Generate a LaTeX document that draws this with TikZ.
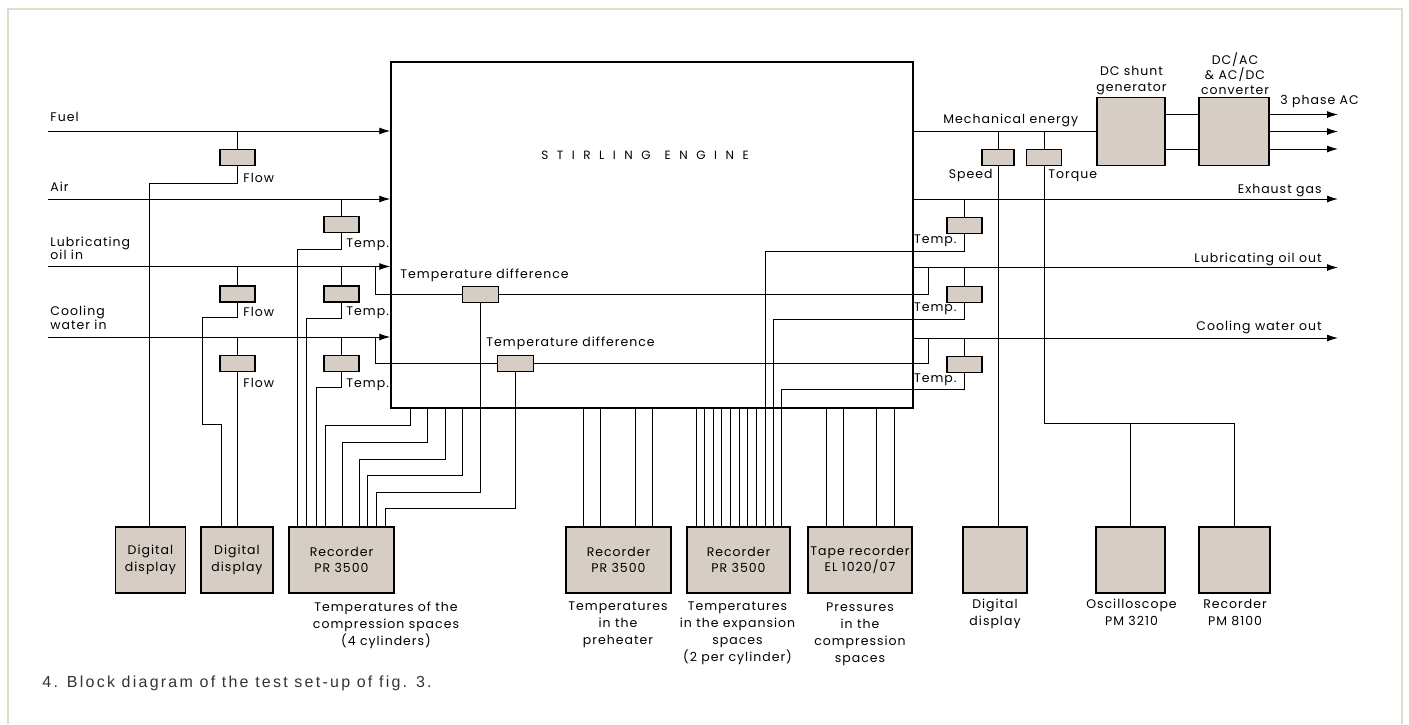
\documentclass[tikz,border=0pt]{standalone}
\usepackage{fontspec}
\setmainfont{Poppins}[LetterSpace=8]
\newfontfamily\engfont{Poppins}[LetterSpace=71]
\newfontfamily\capfont{Liberation Sans}[LetterSpace=14]
\usetikzlibrary{arrows.meta,positioning}
\definecolor{boxc}{RGB}{214,206,196}
\definecolor{framec}{RGB}{228,218,204}

\begin{document}
\begin{tikzpicture}[x=1pt,y=-1pt,line width=0.9pt,
  lbl/.style={inner sep=0pt,font=\fontsize{12.5}{13.5}\selectfont},
  note/.style={inner sep=0pt,align=center,font=\fontsize{12.5}{17}\selectfont},
  sens/.style={draw,line width=1.8pt,fill=boxc,minimum width=35pt,minimum height=16pt,inner sep=0pt},
  unit/.style={draw,line width=1.8pt,fill=boxc,align=center,inner sep=0pt,minimum height=66pt,font=\fontsize{12.5}{16.5}\selectfont},
  arr/.style={-{Latex[length=11pt,width=7pt]}}]
\useasboundingbox (0,0) rectangle (1409,724);
\draw[framec,line width=2pt] (8,724) -- (8,9) -- (1402,9) -- (1402,724);
% --- engine and the lines in and out ---
\node[draw,line width=1.5pt,minimum width=522pt,minimum height=346pt,inner sep=0pt] (engine) at (652,235) {};
\node[font=\engfont\fontsize{12}{14}\selectfont] (title) at (645,155) {STIRLING\hspace{14pt}ENGINE};
\coordinate (fuel) at (48,131);
\coordinate (air) at (48,199);
\coordinate (lubin) at (48,266.5);
\coordinate (cwin) at (48,337);
\coordinate (exhaust) at (1338,199);
\coordinate (lubout) at (1338,267.5);
\coordinate (cwout) at (1338,338);
\foreach \p in {fuel,air,lubin,cwin}
  \draw[arr] (\p) -- (\p -| engine.west);
\foreach \p in {exhaust,lubout,cwout}
  \draw[arr] (engine.east |- \p) -- (\p);
\node[lbl,anchor=west] at (50,117) {Fuel};
\node[lbl,anchor=west] at (50,187) {Air};
\node[lbl,anchor=west,align=left] at (50,248.5) {Lubricating\\oil in};
\node[lbl,anchor=west,align=left] at (50,318) {Cooling\\water in};
\node[lbl,anchor=east] at (1322,190.5) {Exhaust gas};
\node[lbl,anchor=east] at (1322,259) {Lubricating oil out};
\node[lbl,anchor=east] at (1322,327) {Cooling water out};
% --- sensors on the inlets ---
\node[sens] (fuelflow) at (237.5,157.5) {};
\node[sens] (airtemp) at (341.5,224.5) {};
\node[sens] (lubflow) at (237.5,294) {};
\node[sens] (lubtemp) at (341.5,294) {};
\node[sens] (cwflow) at (237.5,363.5) {};
\node[sens] (cwtemp) at (341.5,363.5) {};
\node[sens,minimum width=36pt] (tdiffa) at (480.5,294.5) {};
\node[sens,minimum width=36pt] (tdiffb) at (515.5,363.5) {};
\draw (fuel -| fuelflow) -- (fuelflow.north);
\draw (air -| airtemp) -- (airtemp.north);
\draw (lubin -| lubflow) -- (lubflow.north);
\draw (lubin -| lubtemp) -- (lubtemp.north);
\draw (cwin -| cwflow) -- (cwflow.north);
\draw (cwin -| cwtemp) -- (cwtemp.north);
\node[lbl,anchor=west] at (243,177.5) {Flow};
\node[lbl,anchor=west] at (243,311.5) {Flow};
\node[lbl,anchor=west] at (243,383) {Flow};
\node[lbl,anchor=west] at (346,245) {Temp.};
\node[lbl,anchor=west] at (346,312.5) {Temp.};
\node[lbl,anchor=west] at (346,385) {Temp.};
\node[lbl,anchor=west] at (400,275.5) {Temperature difference};
\node[lbl,anchor=west] at (486,343.5) {Temperature difference};
\draw (lubin -| 375.7,0) |- (tdiffa.west);
\draw (cwin -| 375.7,0) |- (tdiffb.west);
\draw (tdiffa.east) -| (928.3,0 |- lubout);
\draw (tdiffb.east) -| (928.3,0 |- cwout);
% --- sensors on the outlets ---
\node[sens] (extemp) at (964.5,225.5) {};
\node[sens] (lubotemp) at (964.5,294.5) {};
\node[sens] (cwotemp) at (964.5,364.5) {};
\draw (exhaust -| extemp) -- (extemp.north);
\draw (lubout -| lubotemp) -- (lubotemp.north);
\draw (cwout -| cwotemp) -- (cwotemp.north);
\node[lbl,anchor=east] at (957,240.5) {Temp.};
\node[lbl,anchor=east] at (957,309) {Temp.};
\node[lbl,anchor=east] at (957,379.5) {Temp.};
% --- shaft: generator, converter, speed and torque ---
\node[unit,minimum width=68pt,minimum height=68pt] (dcgen) at (1131,131.5) {};
\node[unit,minimum width=70pt,minimum height=68pt] (conv) at (1234,131.5) {};
\node[note,font=\fontsize{12.5}{16}\selectfont] at (1131.5,80.5) {DC shunt\\generator};
\node[note,font=\fontsize{12.5}{15}\selectfont] at (1235,73.5) {DC/AC\\\&\ AC/DC\\converter};
\node[lbl,anchor=west] at (1280,101.5) {3 phase AC};
\draw (engine.east |- dcgen) -- (dcgen.west);
\node[lbl,anchor=west] at (943,120.5) {Mechanical energy};
\draw ([yshift=17pt]dcgen.east) -- ([yshift=17pt]conv.west);
\draw ([yshift=-17.5pt]dcgen.east) -- ([yshift=-17.5pt]conv.west);
\foreach \s in {17,0,-17.5}
  \draw[arr] ([yshift=\s pt]conv.east) -- ([yshift=\s pt]conv.east -| exhaust);
\node[sens,minimum width=32pt] (speed) at (998,157.5) {};
\node[sens] (torque) at (1044,157.5) {};
\draw (speed.north |- dcgen) -- (speed.north);
\draw (torque.north |- dcgen) -- (torque.north);
\node[lbl,anchor=east] at (993,175.5) {Speed};
\node[lbl,anchor=west] at (1048,175.5) {Torque};
% --- instruments ---
\node[unit,minimum width=70pt] (disp1) at (150.5,560) {Digital\\display};
\node[unit,minimum width=72pt] (disp2) at (237,560) {Digital\\display};
\node[unit,minimum width=105pt] (rec1) at (341.5,560) {Recorder\\PR 3500};
\node[unit,minimum width=105pt] (rec2) at (618.5,560) {Recorder\\PR 3500};
\node[unit,minimum width=103pt] (rec3) at (738.5,560) {Recorder\\PR 3500};
\node[unit,minimum width=104pt] (tape) at (860,560) {Tape recorder\\EL 1020/07};
\node[unit,minimum width=64pt] (disp3) at (995,560) {};
\node[unit,minimum width=69pt] (osc) at (1130.5,560) {};
\node[unit,minimum width=71pt] (rec4) at (1234.5,560) {};
\node[note,anchor=north] at (386,601) {Temperatures of the\\compression spaces\\(4 cylinders)};
\node[note,anchor=north] at (618,601) {Temperatures\\in the\\preheater};
\node[note,anchor=north] at (737.5,601) {Temperatures\\in the expansion\\spaces\\(2 per cylinder)};
\node[note,anchor=north] at (860,602) {Pressures\\in the\\compression\\spaces};
\node[note,anchor=north] at (995,599) {Digital\\display};
\node[note,anchor=north] at (1131.5,599) {Oscilloscope\\PM 3210};
\node[note,anchor=north] at (1235,599) {Recorder\\PM 8100};
% --- wiring to the instruments ---
\draw (fuelflow.south) -- ++(0,17) -| (149,0 |- disp1.north);
\draw (lubflow.south) -- ++(0,15) -| (202.7,424) -| (221.7,0 |- disp2.north);
\draw (cwflow.south) -- (cwflow.south |- disp2.north);
\draw (airtemp.south) -- ++(0,16) -| (297.7,0 |- rec1.north);
\draw (lubtemp.south) -- ++(0,15.5) -| (306.7,0 |- rec1.north);
\draw (cwtemp.south) -- ++(0,15.5) -| (316,0 |- rec1.north);
\foreach \a/\b/\y in {410/325/425,427.3/342.3/442.3,445/359.3/459,462.3/367.7/475}
  \draw (\a,0 |- engine.south) |- (\b,\y) -- (\b,0 |- rec1.north);
\draw (tdiffa.south) |- (376.7,492.3) -- (376.7,0 |- rec1.north);
\draw (tdiffb.south) |- (385.7,508.3) -- (385.7,0 |- rec1.north);
\foreach \x in {583.3,600,635,652.7}
  \draw (\x,0 |- engine.south) -- (\x,0 |- rec2.north);
\foreach \x in {696,704.3,713.3,721.7,730.7,739,747.7,756}
  \draw (\x,0 |- engine.south) -- (\x,0 |- rec3.north);
\draw (extemp.south) -- ++(0,17) -| (765,0 |- rec3.north);
\draw (lubotemp.south) -- ++(0,16.5) -| (773.3,0 |- rec3.north);
\draw (cwotemp.south) -- ++(0,16) -| (781.7,0 |- rec3.north);
\foreach \x in {826,843,876.7,894}
  \draw (\x,0 |- engine.south) -- (\x,0 |- tape.north);
\draw (speed.south) -- (speed.south |- disp3.north);
\draw (torque.south) |- (rec4.north |- 0,423) -- (rec4.north);
\draw (osc.north |- 0,423) -- (osc.north);
\node[anchor=west,inner sep=0pt,font=\capfont\fontsize{16}{18}\selectfont,text=black!80] (caption) at (42,683) {4. Block diagram of the test set-up of fig. 3.};
\end{tikzpicture}
\end{document}
